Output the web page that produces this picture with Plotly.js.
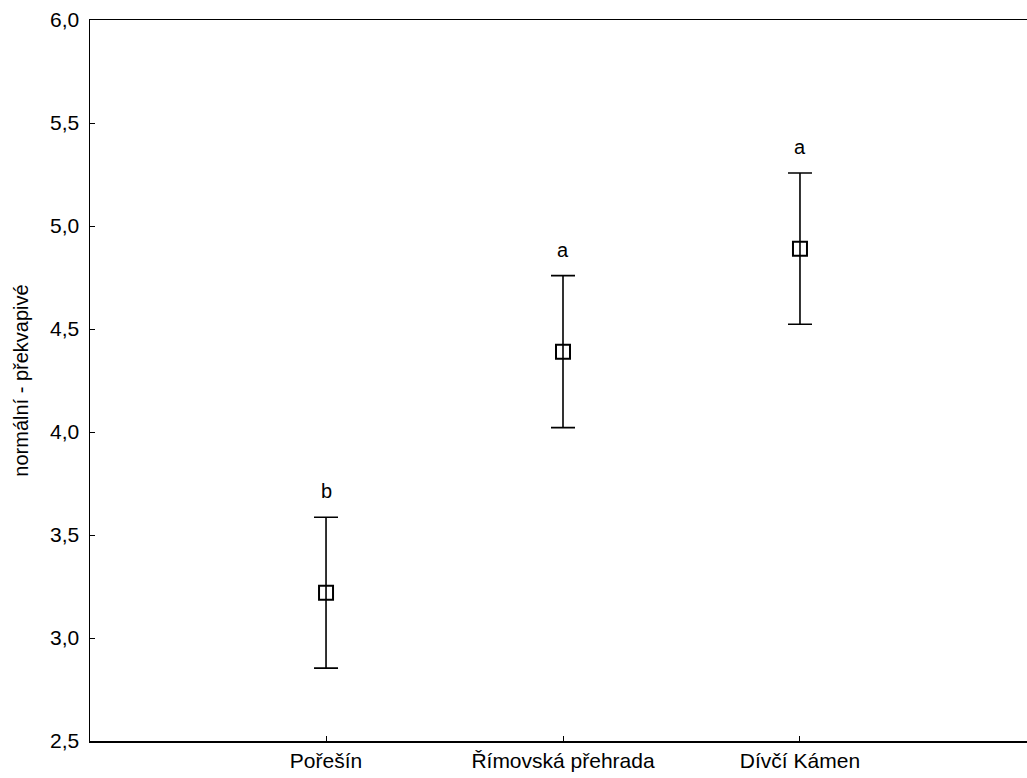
<!DOCTYPE html>
<html>
<head>
<meta charset="utf-8">
<script src="https://cdn.plot.ly/plotly-3.0.1.min.js"></script>
<style>html,body{margin:0;padding:0;background:#fff;}#chart{width:1027px;height:778px;}</style>
</head>
<body>
<div id="chart"></div>
<script>
const categories = ["Pořešín", "Římovská přehrada", "Dívčí Kámen"];
const means = [3.22, 4.39, 4.89];
const errors = [0.366, 0.369, 0.367];
const letters = ["b", "a", "a"];
const yTicks = [2.5, 3.0, 3.5, 4.0, 4.5, 5.0, 5.5, 6.0];
const yTitle = "normální - překvapivé";

const font = "Liberation Sans, Arial, sans-serif";

const trace = {
  type: "scatter",
  mode: "markers",
  x: categories,
  y: means,
  marker: {symbol: "square-open", size: 14, color: "#000", line: {width: 2, color: "#000"}},
  error_y: {type: "data", array: errors, visible: true, color: "#000", thickness: 1.6, width: 12},
  showlegend: false,
  hoverinfo: "skip"
};

const annotations = categories.map((c, i) => ({
  x: c, y: means[i] + errors[i], xref: "x", yref: "y",
  text: letters[i], showarrow: false, yanchor: "bottom", yshift: 13,
  font: {family: font, size: 20, color: "#000"}
}));

const layout = {
  width: 1027, height: 778,
  margin: {l: 90, r: 0, t: 20, b: 37},
  paper_bgcolor: "#fff", plot_bgcolor: "#fff",
  separators: ",.",
  font: {family: font, color: "#000"},
  xaxis: {
    type: "category", range: [-0.996, 2.958],
    showgrid: false, zeroline: false,
    showline: true, linecolor: "#000", linewidth: 1.5, mirror: true,
    ticks: "inside", ticklen: 5, tickcolor: "#000", tickwidth: 1,
    tickfont: {family: font, size: 21, color: "#000"}
  },
  yaxis: {
    range: [2.5, 6.0], tickvals: yTicks, tickformat: ".1f",
    showgrid: false, zeroline: false,
    showline: true, linecolor: "#000", linewidth: 1.5,
    ticks: "inside", ticklen: 5, tickcolor: "#000", tickwidth: 1,
    ticklabelstandoff: 5,
    tickfont: {family: font, size: 21, color: "#000"},
    title: {text: yTitle, font: {family: font, size: 20, color: "#000"}, standoff: 16}
  },
  annotations: annotations
};

Plotly.newPlot("chart", [trace], layout, {displayModeBar: false, staticPlot: true});
</script>
</body>
</html>
